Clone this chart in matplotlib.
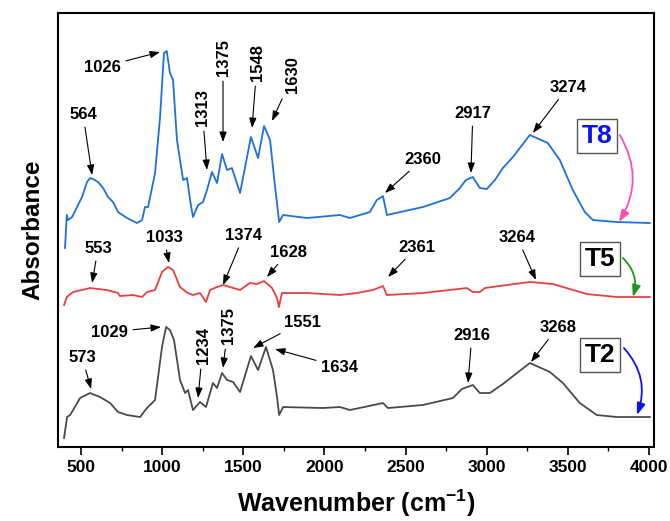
import matplotlib
matplotlib.use("Agg")
import matplotlib.pyplot as plt
from matplotlib.ticker import MultipleLocator

plt.rcParams['font.family'] = ['Liberation Sans', 'DejaVu Sans']
plt.rcParams['font.weight'] = 'bold'
plt.rcParams['mathtext.fontset'] = 'custom'
plt.rcParams['mathtext.rm'] = 'Liberation Sans:bold'
plt.rcParams['mathtext.default'] = 'rm'

# spectra (absorbance in arbitrary, stacked units)
t8_wn = [401, 412, 420, 445, 475, 506, 537, 555, 574, 605, 636, 666, 697, 728, 783, 845, 876,
         894, 913, 956, 987, 1011, 1028, 1048, 1067, 1091, 1129, 1153, 1172, 1190, 1221, 1252,
         1276, 1307, 1338, 1369, 1400, 1430, 1480, 1547, 1591, 1628, 1665, 1696, 1721, 1745,
         1892, 2096, 2157, 2280, 2323, 2361, 2385, 2607, 2773, 2835, 2872, 2915, 2958, 3001,
         3051, 3100, 3162, 3266, 3377, 3451, 3531, 3605, 3655, 3802, 4006]
t8_abs = [1.99, 2.32, 2.27, 2.30, 2.40, 2.50, 2.65, 2.69, 2.68, 2.65, 2.59, 2.50, 2.45, 2.35, 2.29,
          2.24, 2.27, 2.40, 2.40, 2.74, 3.30, 3.94, 3.96, 3.74, 3.67, 3.07, 2.67, 2.69, 2.47,
          2.30, 2.42, 2.45, 2.57, 2.75, 2.64, 2.93, 2.77, 2.79, 2.54, 3.10, 2.89, 3.21, 3.07,
          2.60, 2.25, 2.32, 2.29, 2.32, 2.29, 2.35, 2.47, 2.51, 2.32, 2.40, 2.49, 2.59, 2.67,
          2.70, 2.59, 2.58, 2.67, 2.79, 2.90, 3.12, 3.04, 2.87, 2.57, 2.35, 2.27, 2.25, 2.24]

t5_wn = [395, 412, 451, 555, 660, 728, 740, 820, 876, 906, 956, 999, 1036, 1067, 1110, 1141,
         1159, 1190, 1233, 1270, 1295, 1338, 1375, 1418, 1480, 1541, 1584, 1628, 1677, 1708,
         1720, 1738, 1892, 2096, 2200, 2299, 2361, 2385, 2607, 2878, 2915, 2958, 2989, 3125,
         3266, 3408, 3617, 3802, 4006]
t5_abs = [1.42, 1.50, 1.55, 1.59, 1.57, 1.54, 1.51, 1.52, 1.50, 1.55, 1.57, 1.75, 1.80, 1.77,
          1.60, 1.56, 1.54, 1.52, 1.54, 1.45, 1.57, 1.60, 1.62, 1.60, 1.57, 1.64, 1.63, 1.66,
          1.59, 1.49, 1.40, 1.54, 1.54, 1.52, 1.54, 1.57, 1.61, 1.52, 1.54, 1.59, 1.55, 1.55,
          1.59, 1.62, 1.65, 1.63, 1.53, 1.50, 1.50]

t2_wn = [395, 414, 432, 451, 494, 555, 617, 679, 728, 783, 864, 906, 956, 999, 1024, 1048,
         1073, 1110, 1141, 1159, 1190, 1233, 1270, 1313, 1338, 1369, 1400, 1437, 1480, 1547,
         1591, 1640, 1683, 1708, 1721, 1745, 1991, 2096, 2157, 2361, 2392, 2607, 2792, 2847,
         2915, 2958, 3020, 3100, 3266, 3390, 3470, 3574, 3679, 3802, 4006]
t2_abs = [0.09, 0.30, 0.32, 0.37, 0.49, 0.54, 0.50, 0.44, 0.35, 0.32, 0.30, 0.39, 0.47, 1.00,
          1.20, 1.17, 1.07, 0.67, 0.54, 0.57, 0.37, 0.45, 0.40, 0.64, 0.59, 0.74, 0.67, 0.65,
          0.55, 0.91, 0.77, 1.00, 0.77, 0.50, 0.32, 0.40, 0.39, 0.40, 0.37, 0.44, 0.39, 0.42,
          0.49, 0.58, 0.62, 0.54, 0.54, 0.63, 0.84, 0.75, 0.64, 0.44, 0.32, 0.30, 0.30]

# peak labels: (text, arrow tip x, tip y, text x, text y, rotation)
t8_peaks = [("564", 568, 2.72, 512, 3.33, 0), ("1026", 987, 3.95, 629, 3.80, 0),
            ("1313", 1276, 2.77, 1246, 3.40, 90), ("1375", 1375, 3.05, 1375, 3.90, 90),
            ("1548", 1554, 3.19, 1585, 3.85, 90), ("1630", 1677, 3.26, 1806, 3.72, 90),
            ("2360", 2373, 2.54, 2607, 2.88, 0), ("2917", 2903, 2.74, 2915, 3.34, 0),
            ("3274", 3285, 3.14, 3501, 3.60, 0)]
t5_peaks = [("553", 568, 1.64, 605, 1.99, 0), ("1033", 1042, 1.84, 1011, 2.10, 0),
            ("1374", 1375, 1.62, 1504, 2.12, 0), ("1628", 1646, 1.70, 1776, 1.95, 0),
            ("2361", 2392, 1.70, 2570, 2.00, 0), ("3264", 3304, 1.67, 3187, 2.10, 0)]
t2_peaks = [("573", 562, 0.58, 506, 0.90, 0), ("1029", 993, 1.20, 673, 1.15, 0),
            ("1234", 1221, 0.49, 1252, 1.02, 90), ("1375", 1375, 0.79, 1406, 1.22, 90),
            ("1551", 1560, 0.99, 1862, 1.25, 0), ("1634", 1695, 0.98, 2096, 0.80, 0),
            ("2916", 2885, 0.64, 2909, 1.12, 0), ("3268", 3273, 0.85, 3439, 1.20, 0)]

# sample tags: (name, text colour, box x, box y, arrow from, arrow to, arrow colour)
tags = [("T8", "#0a14e6", 3680, 3.11, (3821, 3.12), (3815, 2.25), "#ff4fae"),
        ("T5", "black", 3698, 1.88, (3840, 1.89), (3901, 1.50), "#1c961c"),
        ("T2", "black", 3698, 0.92, (3846, 0.99), (3926, 0.32), "#0a14f0")]

fig = plt.figure(figsize=(6.7, 5.21), dpi=100)
ax = fig.add_axes([0.0866, 0.142, 0.8894, 0.833])

ax.plot(t8_wn, t8_abs, color="#1f6fdc", lw=1.3)
ax.plot(t5_wn, t5_abs, color="#e84040", lw=1.3)
ax.plot(t2_wn, t2_abs, color="#4a4a4a", lw=1.3)

for peaks in (t8_peaks, t5_peaks, t2_peaks):
    for txt, px, py, tx, ty, rot in peaks:
        ax.annotate(txt, xy=(px, py), xytext=(tx, ty), rotation=rot,
                    ha="center", va="center", fontsize=12, fontweight="bold",
                    arrowprops=dict(arrowstyle="-|>,head_length=0.5,head_width=0.18",
                                    color="black", lw=0.8, shrinkA=2, shrinkB=0))

for name, tcol, bx, by, a0, a1, acol in tags:
    ax.text(bx, by, name, color=tcol, fontsize=19, fontweight="bold",
            ha="center", va="center",
            bbox=dict(boxstyle="square,pad=0.18", fc="white", ec="#555555", lw=1))
    ax.annotate("", xy=a1, xytext=a0,
                arrowprops=dict(arrowstyle="-|>,head_length=0.7,head_width=0.25",
                                color=acol, lw=1.3, shrinkA=0, shrinkB=0,
                                connectionstyle="arc3,rad=-0.3"))

ax.set_xlim(358, 4031)
ax.set_ylim(0.0, 4.34)
ax.xaxis.set_major_locator(MultipleLocator(500))
ax.xaxis.set_minor_locator(MultipleLocator(250))
ax.set_xticks(range(500, 4001, 500))
ax.set_yticks([])
ax.tick_params(axis="x", which="major", direction="out", length=5.5, width=1.2,
               labelsize=12.5, pad=4)
ax.tick_params(axis="x", which="minor", direction="out", length=3, width=1.0)
for lbl in ax.get_xticklabels():
    lbl.set_fontweight("bold")
for sp in ax.spines.values():
    sp.set_linewidth(1.5)

ax.set_xlabel(r"Wavenumber (cm$^{-1}$)", fontsize=18, fontweight="bold", labelpad=9)
ax.set_ylabel("Absorbance", fontsize=17.5, fontweight="bold", labelpad=10)

fig.savefig("out.png", dpi=100)
